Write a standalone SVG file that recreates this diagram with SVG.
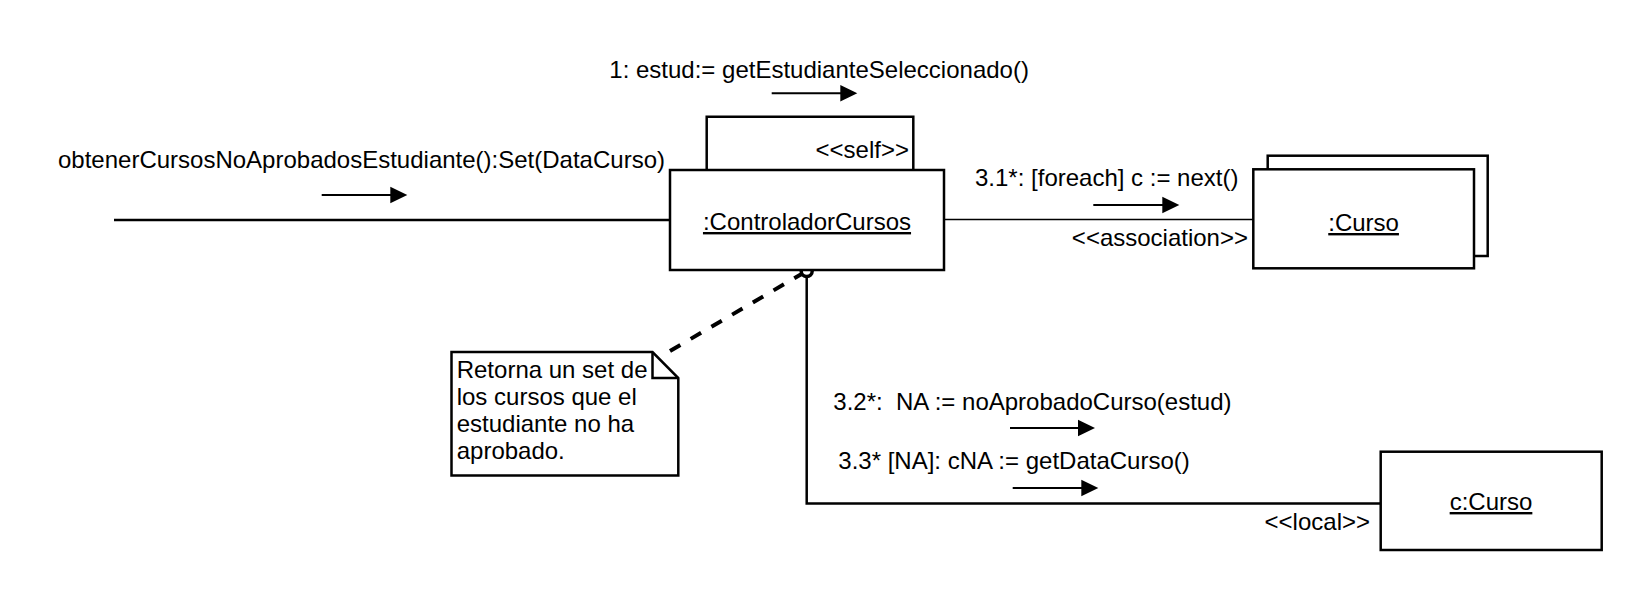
<svg xmlns="http://www.w3.org/2000/svg" width="1652" height="602" viewBox="0 0 1652 602">
<style>
text{font-family:"Liberation Sans",Arial,Helvetica,sans-serif;font-size:24px;fill:#000;white-space:pre}
.box{fill:#fff;stroke:#000;stroke-width:2.5}
.con{fill:none;stroke:#000;stroke-width:2.5}
.thin{fill:none;stroke:#000;stroke-width:1.5}
.shaft{fill:none;stroke:#000;stroke-width:2}
.head{fill:#000;stroke:none}
.u{text-decoration:underline}
.mid{text-anchor:middle}
.end{text-anchor:end}
</style>
<rect width="1652" height="602" fill="#fff"/>
<g id="connectors">
<line class="con" x1="114" y1="220" x2="670" y2="220"/>
<polyline class="con" points="706.7,170 706.7,116.7 913.3,116.7 913.3,170"/>
<line class="thin" x1="944" y1="219.5" x2="1253" y2="219.5"/>
<polyline class="con" points="806.7,271 806.7,503.5 1381,503.5"/>
<line x1="670" y1="351" x2="806.7" y2="271" stroke="#000" stroke-width="4" stroke-dasharray="12 12"/>
<circle cx="806.7" cy="271" r="5.5" fill="#fff" stroke="#000" stroke-width="3.5"/>
<text x="909" y="158" class="end">&lt;&lt;self&gt;&gt;</text>
<text x="1248" y="246" class="end">&lt;&lt;association&gt;&gt;</text>
<text x="1370" y="530" class="end">&lt;&lt;local&gt;&gt;</text>
</g>
<g id="messages">
<text x="58" y="168">obtenerCursosNoAprobadosEstudiante():Set(DataCurso)</text>
<line class="shaft" x1="321.7" y1="195" x2="392" y2="195"/>
<polygon class="head" points="407.3,195 390.3,186.7 390.3,203.3"/>
<text x="609.3" y="78">1: estud:= getEstudianteSeleccionado()</text>
<line class="shaft" x1="771.7" y1="93.3" x2="842" y2="93.3"/>
<polygon class="head" points="857.3,93.3 840.3,85 840.3,101.6"/>
<text x="975" y="186">3.1*: [foreach] c := next()</text>
<line class="shaft" x1="1093.3" y1="205" x2="1164" y2="205"/>
<polygon class="head" points="1179.3,205 1162.3,196.7 1162.3,213.3"/>
<text x="833.3" y="410">3.2*:  NA := noAprobadoCurso(estud)</text>
<line class="shaft" x1="1010" y1="428" x2="1080" y2="428"/>
<polygon class="head" points="1095,428 1078,419.7 1078,436.3"/>
<text x="838.3" y="469">3.3* [NA]: cNA := getDataCurso()</text>
<line class="shaft" x1="1012.7" y1="488" x2="1083" y2="488"/>
<polygon class="head" points="1098.3,488 1081.3,479.7 1081.3,496.3"/>
</g>
<g id="controlador">
<rect class="box" x="670" y="170" width="274" height="100"/>
<text x="807" y="230" class="mid u">:ControladorCursos</text>
</g>
<g id="curso">
<rect class="box" x="1267.7" y="155.7" width="220" height="100.3"/>
<rect class="box" x="1253.3" y="169.3" width="220.7" height="99"/>
<text x="1363.6" y="231" class="mid u">:Curso</text>
</g>
<g id="ccurso">
<rect class="box" x="1380.7" y="451.7" width="221" height="98.3"/>
<text x="1491" y="510" class="mid u">c:Curso</text>
</g>
<g id="note">
<path class="box" d="M451.5,352 H652.5 L678.3,378 V475.5 H451.5 Z"/>
<path class="con" d="M652.5,352 V378 H678.3"/>
<text x="456.7" y="377.5">Retorna un set de</text>
<text x="456.7" y="405">los cursos que el</text>
<text x="456.7" y="432">estudiante no ha</text>
<text x="456.7" y="459">aprobado.</text>
</g>
</svg>
